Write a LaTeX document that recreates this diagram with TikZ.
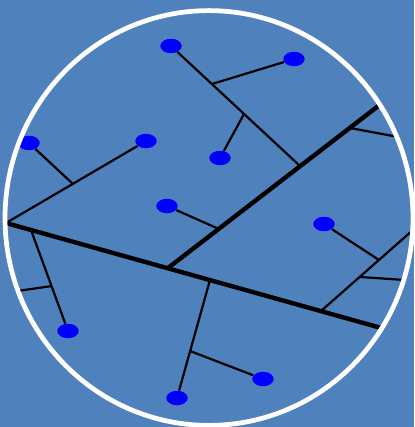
\documentclass[tikz,border=0pt]{standalone}
\usetikzlibrary{shapes.geometric}
\definecolor{bgblue}{RGB}{79,129,189}

\begin{document}
\begin{tikzpicture}[x=0.02cm, y=-0.02cm,
  trunk/.style={line width=2.5pt, draw=black},
  branch/.style={line width=1.25pt, draw=black},
  leaf/.style={ellipse, fill=blue, minimum width=0.43cm, minimum height=0.29cm, inner sep=0pt},
  rim/.style={draw=white, line width=2.7pt},
]
\fill[bgblue] (0,0) rectangle (414,427);
\useasboundingbox (0,0) rectangle (414,427);
\begin{scope}
\clip (209,218) ellipse [x radius=204, y radius=207.4];
% trunks
\coordinate (root) at (6,223);
\coordinate (tEnd) at (392,331);
\coordinate (fork) at (168,268);
\coordinate (sEnd) at (386,100);
\coordinate (sMid) at (300,166);
\coordinate (sUp) at (350,128);
\coordinate (sUpEnd) at (420,141);
\coordinate (sLow) at (219,229);
% junctions
\coordinate (tA) at (212,84);
\coordinate (tB) at (244,114);
\coordinate (lA) at (73,184);
\coordinate (lB) at (31,230);
\coordinate (lC) at (52,286);
\coordinate (lCEnd) at (10,292);
\coordinate (bA) at (210,280);
\coordinate (bB) at (190,351);
\coordinate (rA) at (321,311);
\coordinate (rEnd) at (430,215);
\coordinate (rB) at (379,260);
\coordinate (rC) at (360,277);
\coordinate (rCEnd) at (420,281);
% leaves
\node[leaf] (top) at (171,46) {};
\node[leaf] (topR) at (294,59) {};
\node[leaf] (topL) at (220,158) {};
\node[leaf] (midL) at (146,141) {};
\node[leaf] (edgeL) at (29,143) {};
\node[leaf] (mid) at (167,206) {};
\node[leaf] (lowL) at (68,331) {};
\node[leaf] (bot) at (177,398) {};
\node[leaf] (botR) at (263,379) {};
\node[leaf] (right) at (324,224) {};
% edges
\draw[trunk] (root) -- (tEnd);
\draw[trunk] (fork) -- (sEnd);
\draw[branch] (top) -- (sMid);
\draw[branch] (tA) -- (topR);
\draw[branch] (tB) -- (topL);
\draw[branch] (sUp) -- (sUpEnd);
\draw[branch] (mid) -- (sLow);
\draw[branch] (root) -- (midL);
\draw[branch] (lA) -- (edgeL);
\draw[branch] (lB) -- (lowL);
\draw[branch] (lC) -- (lCEnd);
\draw[branch] (bA) -- (bot);
\draw[branch] (bB) -- (botR);
\draw[branch] (rA) -- (rEnd);
\draw[branch] (rB) -- (right);
\draw[branch] (rC) -- (rCEnd);
\end{scope}
\draw[rim] (209,218) ellipse [x radius=204, y radius=207.4];
\end{tikzpicture}
\end{document}
